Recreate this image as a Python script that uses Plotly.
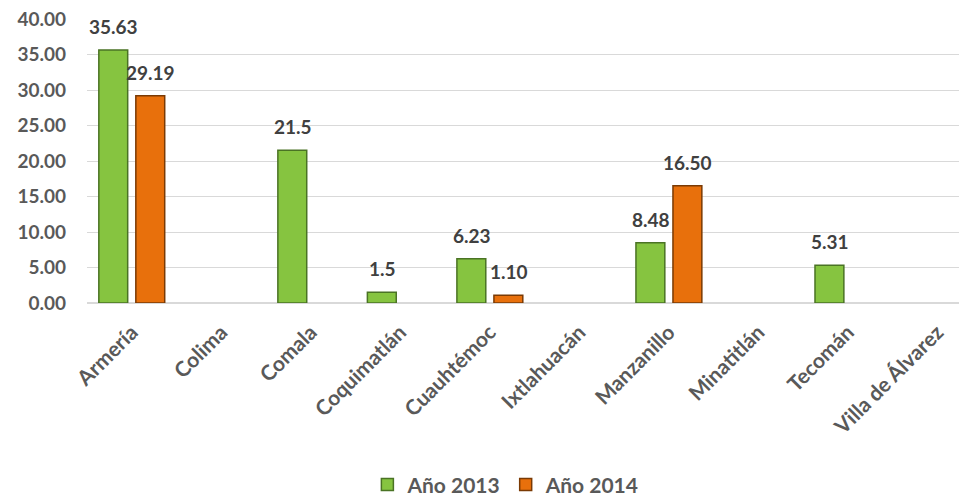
import plotly.graph_objects as go

municipios = ['Armería', 'Colima', 'Comala', 'Coquimatlán', 'Cuauhtémoc',
              'Ixtlahuacán', 'Manzanillo', 'Minatitlán', 'Tecomán', 'Villa de Álvarez']
anio_2013 = [35.63, None, 21.5, 1.5, 6.23, None, 8.48, None, 5.31, None]
anio_2014 = [29.19, None, None, None, 1.10, None, 16.50, None, None, None]
texto_2013 = ['35.63', '', '21.5', '1.5', '6.23', '', '8.48', '', '5.31', '']
texto_2014 = ['29.19', '', '', '', '1.10', '', '16.50', '', '', '']
y_ticks = [0, 5, 10, 15, 20, 25, 30, 35, 40]

font_fam = 'Lato'
gris = '#595959'
bold = dict(family=font_fam, color=gris, weight='bold')

fig = go.Figure()
fig.add_trace(go.Bar(
    x=municipios, y=anio_2013, name='Año 2013',
    marker=dict(color='#86C440', line=dict(color='#4A7324', width=1.5)),
))
fig.add_trace(go.Bar(
    x=municipios, y=anio_2014, name='Año 2014',
    marker=dict(color='#E8700C', line=dict(color='#7A3A04', width=1.5)),
))

# etiquetas de datos encima de cada barra
for valores, textos, dx in [(anio_2013, texto_2013, -18), (anio_2014, texto_2014, 19)]:
    for m, v, t in zip(municipios, valores, textos):
        if v is None:
            continue
        fig.add_annotation(x=m, y=v, text=t, showarrow=False,
                           xshift=dx, yshift=10, yanchor='bottom',
                           font=dict(family=font_fam, size=19, color='#404040', weight='bold'))

# la página tiene 8px de margen en el body: se compensa en los márgenes
fig.update_layout(
    width=967, height=495,
    margin=dict(l=79, r=8, t=11, b=200, autoexpand=False),
    plot_bgcolor='white', paper_bgcolor='white',
    barmode='group', bargap=0.173, bargroupgap=0.22,
    font=dict(size=18, **bold),
    showlegend=True,
    legend=dict(orientation='h', x=0.476, xanchor='center',
                y=-0.64, yanchor='middle',
                font=dict(size=21, **bold)),
    xaxis=dict(tickangle=-45, showline=False, ticks='', automargin=False,
               range=[-0.5, 9.33], ticklabelstandoff=12,
               tickfont=dict(size=21, **bold)),
    yaxis=dict(range=[0, 40], tickvals=y_ticks, tickformat='.2f', automargin=False,
               ticklabeloverflow='allow', ticklabelstandoff=20,
               showgrid=True, gridcolor='#D9D9D9', gridwidth=1,
               zeroline=True, zerolinecolor='#D9D9D9', showline=False, ticks='',
               tickfont=dict(size=19, **bold)),
)

fig.write_html('out.html')
